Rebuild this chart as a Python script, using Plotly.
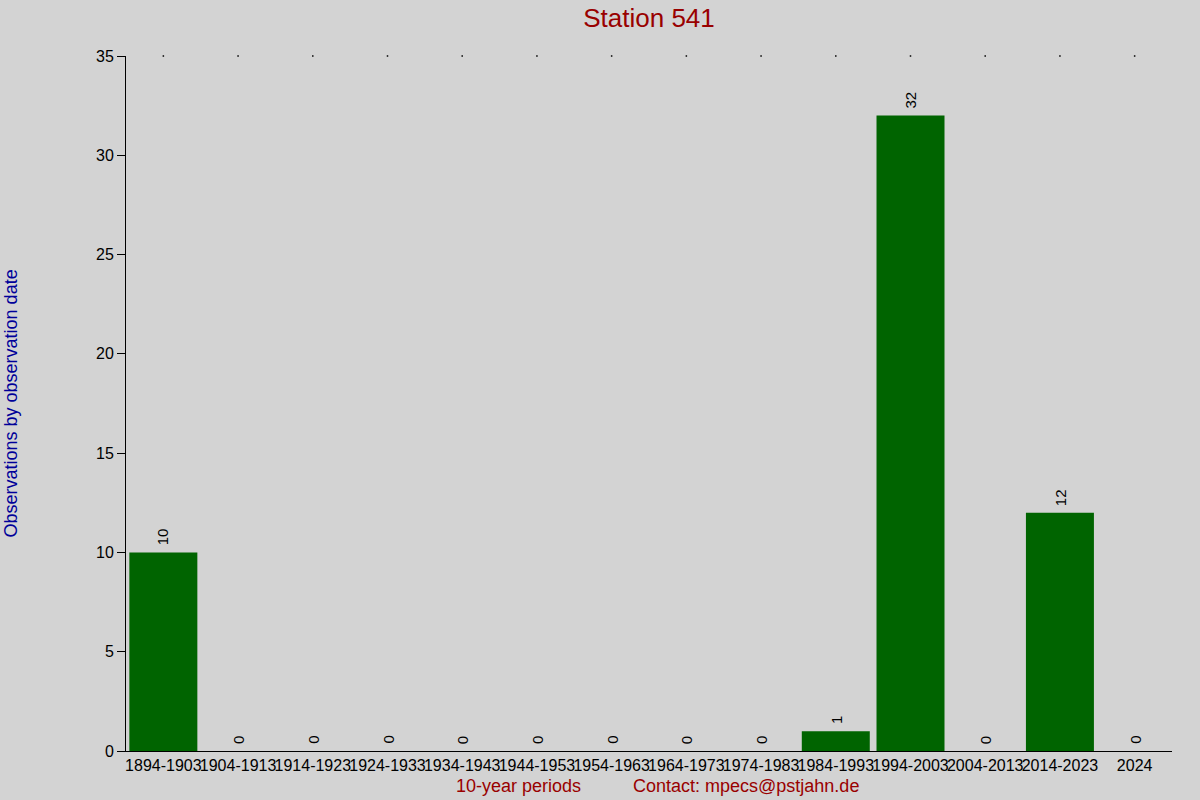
import plotly.graph_objects as go

categories = ["1894-1903", "1904-1913", "1914-1923", "1924-1933", "1934-1943",
              "1944-1953", "1954-1963", "1964-1973", "1974-1983", "1984-1993",
              "1994-2003", "2004-2013", "2014-2023", "2024"]
values = [10, 0, 0, 0, 0, 0, 0, 0, 0, 1, 32, 0, 12, 0]
y_max = 35
y_tick_step = 5

title_text = "Station 541"
y_title = "Observations by observation date"
x_title = "10-year periods"
contact_text = "Contact: mpecs@pstjahn.de"

FONT = "Liberation Sans, Arial, sans-serif"

fig = go.Figure()
fig.add_trace(go.Bar(
    x=categories, y=values,
    marker=dict(color="#006400", line=dict(width=0)),
    hoverinfo="x+y",
))
# small tick dots along the top edge
fig.add_trace(go.Scatter(
    x=categories, y=[y_max] * len(categories), mode="markers",
    marker=dict(color="black", size=1.5, symbol="square"),
    hoverinfo="skip", cliponaxis=False,
))

annotations = []
for i, v in enumerate(values):
    annotations.append(dict(
        x=i, y=v, xref="x", yref="y", text=str(v), textangle=-90,
        showarrow=False, yanchor="bottom", xanchor="center", yshift=5,
        font=dict(family=FONT, size=15, color="black"),
    ))
annotations.append(dict(
    x=0.375, y=0, xref="paper", yref="paper", yshift=-35, text=x_title, showarrow=False,
    font=dict(family=FONT, size=18, color="#990000"), xanchor="center", yanchor="middle",
))
annotations.append(dict(
    x=0.4828, y=0, xref="paper", yref="paper", yshift=-35, text=contact_text, showarrow=False,
    font=dict(family=FONT, size=18, color="#990000"), xanchor="left", yanchor="middle",
))
annotations.append(dict(
    x=0, y=0.5, xref="paper", yref="paper", xshift=-116, text=y_title, textangle=-90,
    showarrow=False, xanchor="center", yanchor="middle",
    font=dict(family=FONT, size=18, color="#000099"),
))

fig.update_layout(
    width=1200, height=800,
    paper_bgcolor="#D3D3D3", plot_bgcolor="#D3D3D3",
    margin=dict(l=126, r=28, t=56, b=49),
    showlegend=False,
    bargap=0.09,
    title=dict(text=title_text, x=0.5, xref="paper", y=0.978, yanchor="middle",
               font=dict(family=FONT, size=26, color="#990000")),
    font=dict(family=FONT, size=16, color="black"),
    annotations=annotations,
    xaxis=dict(
        type="category", range=[-0.5, len(categories) - 0.5],
        showline=True, linecolor="black", linewidth=1,
        ticks="", tickangle=0, showgrid=False, zeroline=False,
        tickfont=dict(family=FONT, size=16, color="black"),
    ),
    yaxis=dict(
        range=[0, y_max], dtick=y_tick_step, tick0=0,
        showline=True, linecolor="black", linewidth=1,
        ticks="outside", ticklen=8, tickcolor="black", tickwidth=1,
        showgrid=False, zeroline=False,
        tickfont=dict(family=FONT, size=16, color="black"),
    ),
)

fig.write_html("out.html", config={"displayModeBar": False},
               post_script="document.body.style.margin='0';document.body.style.overflow='hidden';document.body.style.background='#D3D3D3';")
